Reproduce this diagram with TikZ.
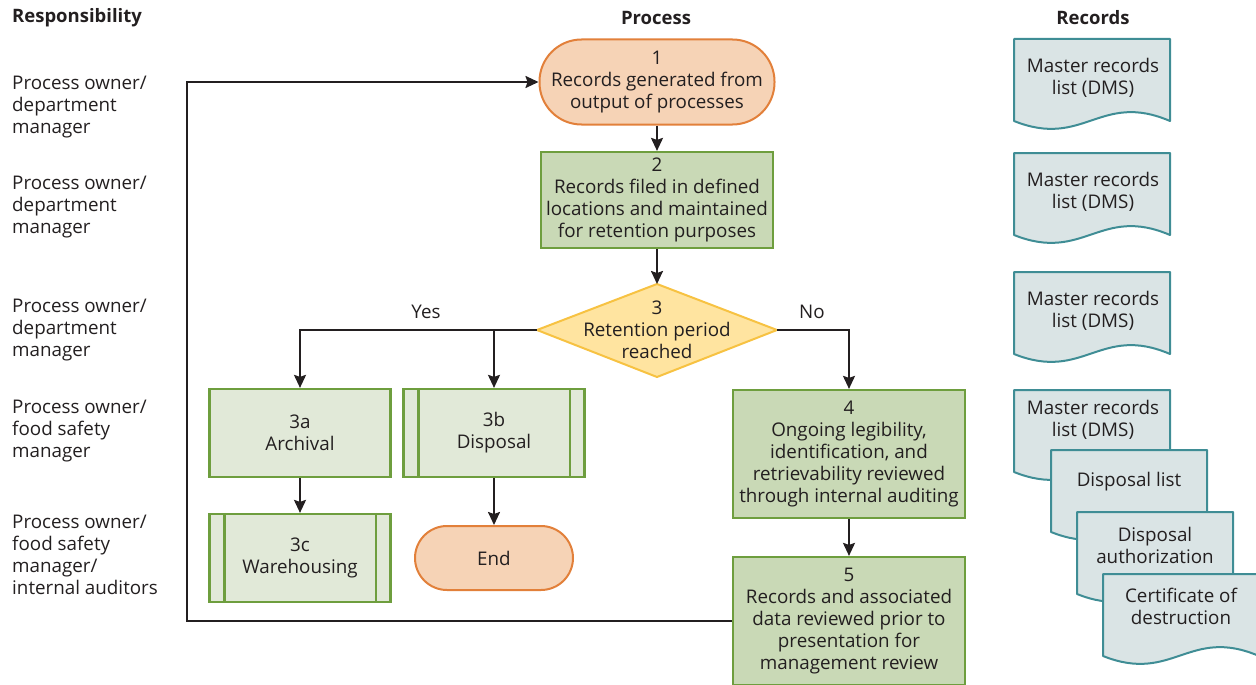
\documentclass[tikz,border=0pt]{standalone}
\usepackage{fontspec}
\setmainfont{Open Sans}
\usetikzlibrary{arrows.meta,calc}
\definecolor{ink}{HTML}{231F20}
\definecolor{orf}{HTML}{F6D3B6}
\definecolor{orb}{HTML}{E2803A}
\definecolor{gdf}{HTML}{C9D9B6}
\definecolor{glf}{HTML}{E1E9D8}
\definecolor{gb}{HTML}{6E9E3E}
\definecolor{yf}{HTML}{FFE4A0}
\definecolor{yb}{HTML}{F7C242}
\definecolor{df}{HTML}{DAE4E5}
\definecolor{db}{HTML}{3F8D95}
\newcommand\recdoc[6]{% name, x0, y0, textx, texty, text
  \path[fill=df,draw=db,line width=2pt,line join=round]
    (#2,#3) -- (#2+156,#3) -- (#2+156,#3+82)
    .. controls (#2+86,#3+52) and (#2+70,#3+110) .. (#2,#3+82) -- cycle;
  \node[txt] (#1) at (#4,#5) {#6};}
\begin{document}
\begin{tikzpicture}[x=1pt,y=-1pt,
  font=\fontsize{18.8}{22}\selectfont,
  txt/.style={text=ink,align=center,inner sep=0pt},
  lbl/.style={text=ink,align=left,inner sep=0pt,anchor=west},
  line/.style={draw=ink,line width=2pt},
  arr/.style={line,-{Stealth[length=13pt,width=12pt,inset=2pt]}},
  term/.style={txt,draw=orb,fill=orf,line width=2pt},
  dbox/.style={txt,draw=gb,fill=gdf,line width=2.2pt},
  lbox/.style={txt,draw=gb,fill=glf,line width=2.2pt,minimum width=181pt,minimum height=88pt}]
\useasboundingbox (0,0) rectangle (1256,685);

% headers
\node[lbl,font=\fontsize{18.5}{22}\selectfont\bfseries] (hR) at (12,18) {Responsibility};
\node[txt,font=\fontsize{18.5}{22}\selectfont\bfseries] (hP) at (656,18) {Process};
\node[txt,font=\fontsize{18.5}{22}\selectfont\bfseries] (hD) at (1093,18) {Records};

% responsibility
\node[lbl] (r1) at (12,107) {Process owner/\\department\\manager};
\node[lbl] (r2) at (12,207) {Process owner/\\department\\manager};
\node[lbl] (r3) at (12,330) {Process owner/\\department\\manager};
\node[lbl] (r4) at (12,431) {Process owner/\\food safety\\manager};
\node[lbl] (r5) at (12,555) {Process owner/\\food safety\\manager/\\internal auditors};

% process nodes
\node[term,minimum width=235pt,minimum height=85pt,rounded corners=42pt] (n1) at (657,82)
  {1\\Records generated from\\output of processes};
\node[dbox,minimum width=232pt,minimum height=96pt] (n2) at (657,200)
  {2\\Records filed in defined\\locations and maintained\\for retention purposes};
\path[fill=yf,draw=yb,line width=2pt,line join=miter]
  (537,330) coordinate (d3w) -- (657,284) coordinate (d3n) -- (777,330) coordinate (d3e)
  -- (657,377) coordinate (d3s) -- cycle;
\node[txt] (n3) at (657,330) {3\\Retention period\\reached};

\node[lbox] (n3a) at (300,433) {3a\\Archival};
\node[lbox] (n3b) at (494,433) {3b\\Disposal};
\node[lbox] (n3c) at (300,558) {3c\\Warehousing};
\foreach \n in {n3b,n3c}{
  \draw[draw=gb,line width=2.2pt] ($(\n.north west)+(16,0)$) -- ($(\n.south west)+(16,0)$);
  \draw[draw=gb,line width=2.2pt] ($(\n.north east)+(-16,0)$) -- ($(\n.south east)+(-16,0)$);
}
\node[term,minimum width=158pt,minimum height=64pt,rounded corners=32pt] (nend) at (494,558) {End};

\node[dbox,minimum width=232pt,minimum height=128pt] (n4) at (849,454)
  {4\\Ongoing legibility,\\identification, and\\retrievability reviewed\\through internal auditing};
\node[dbox,minimum width=232pt,minimum height=128pt] (n5) at (849,621)
  {5\\Records and associated\\data reviewed prior to\\presentation for\\management review};

% connectors
\draw[arr] (n1.south) -- (n2.north);
\draw[arr] (n2.south) -- (d3n);
\draw[arr] (d3w) -| (n3a.north);
\draw[arr] (n3b.north |- d3w) -- (n3b.north);
\draw[arr] (d3e) -| (n4.north);
\draw[arr] (n3a.south) -- (n3c.north);
\draw[arr] (n3b.south) -- (nend.north);
\draw[arr] (n4.south) -- (n5.north);
\draw[arr] (n5.west) -- ++(-545,0) coordinate (lp) |- (n1.west);
\node[txt] (yes) at (426,312) {Yes};
\node[txt] (no) at (812,312) {No};

% records
\recdoc{d1}{1014}{39}{1093}{78}{Master records\\list (DMS)}
\recdoc{d2}{1014}{153}{1093}{192}{Master records\\list (DMS)}
\recdoc{d3}{1014}{272}{1093}{311}{Master records\\list (DMS)}
\recdoc{d4}{1014}{390}{1093}{420}{Master records\\list (DMS)}
\recdoc{d5}{1051}{450}{1129}{482}{Disposal list}
\recdoc{d6}{1077}{512}{1155}{545}{Disposal\\authorization}
\recdoc{d7}{1103}{574}{1181}{606}{Certificate of\\destruction}
\end{tikzpicture}
\end{document}
